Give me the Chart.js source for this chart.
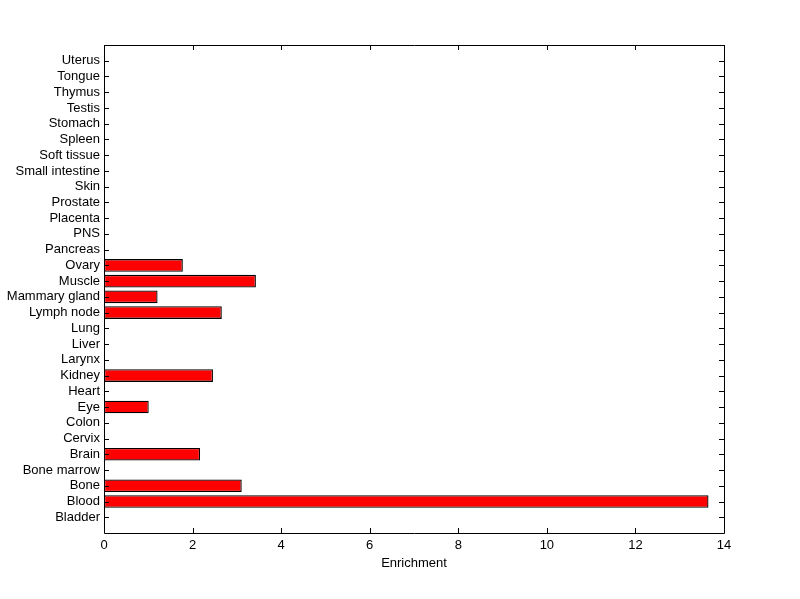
<!DOCTYPE html>
<html>
<head>
<meta charset="utf-8">
<script src="https://cdn.jsdelivr.net/npm/chart.js@4"></script>
<style>
  html, body { margin: 0; padding: 0; background: #fff; }
  #wrap { width: 800px; height: 599px; }
</style>
</head>
<body>
<div id="wrap"><canvas id="chart" width="800" height="599"></canvas></div>
<script>
const tissues = ["Bladder", "Blood", "Bone", "Bone marrow", "Brain", "Cervix", "Colon", "Eye", "Heart",
    "Kidney", "Larynx", "Liver", "Lung", "Lymph node", "Mammary gland", "Muscle", "Ovary", "Pancreas",
    "PNS", "Placenta", "Prostate", "Skin", "Small intestine", "Soft tissue", "Spleen", "Stomach",
    "Testis", "Thymus", "Tongue", "Uterus"];
const enrichment = [0, 13.65, 3.11, 0, 2.17, 0, 0, 1.01, 0,
    2.46, 0, 0, 0, 2.66, 1.21, 3.43, 1.78, 0,
    0, 0, 0, 0, 0, 0, 0, 0,
    0, 0, 0, 0];
const xTicks = [0, 2, 4, 6, 8, 10, 12, 14];

// frame with inward ticks on all four sides
const frameTicks = {
    id: "frameTicks",
    afterDraw(chart) {
        const { ctx, chartArea: a, scales } = chart;
        ctx.save();
        ctx.strokeStyle = "#000";
        ctx.lineWidth = 1;
        ctx.beginPath();
        ctx.rect(Math.round(a.left) + 0.5, Math.round(a.top) + 0.5,
            Math.round(a.right - a.left), Math.round(a.bottom - a.top));
        const len = 5;
        xTicks.forEach(v => {
            const x = Math.round(scales.x.getPixelForValue(v)) + 0.5;
            ctx.moveTo(x, a.bottom); ctx.lineTo(x, a.bottom - len);
            ctx.moveTo(x, a.top); ctx.lineTo(x, a.top + len);
        });
        tissues.forEach((t, i) => {
            const y = Math.round(scales.y.getPixelForValue(i)) + 0.5;
            ctx.moveTo(a.left, y); ctx.lineTo(a.left + len, y);
            ctx.moveTo(a.right, y); ctx.lineTo(a.right - len, y);
        });
        ctx.stroke();
        ctx.restore();
    }
};

const font = { family: "Liberation Sans", size: 13 };

const ctx = document.getElementById("chart").getContext("2d");
new Chart(ctx, {
    type: "bar",
    data: {
        datasets: [{
            data: enrichment.map((v, i) => ({ x: v, y: i })),
            backgroundColor: "#ff0000",
            borderColor: "#000",
            borderWidth: 1.3,
            borderSkipped: false,
            categoryPercentage: 1,
            barPercentage: 0.8
        }]
    },
    options: {
        indexAxis: "y",
        responsive: false,
        animation: false,
        layout: { padding: { left: 0, top: 45, right: 76, bottom: 0 } },
        plugins: { legend: { display: false }, tooltip: { enabled: false } },
        scales: {
            x: {
                type: "linear",
                min: 0,
                max: 14,
                grid: { display: false, drawTicks: false, tickLength: 0 },
                border: { display: false },
                ticks: { stepSize: 2, color: "#000", padding: 5, font },
                title: {
                    display: true,
                    text: "Enrichment",
                    color: "#000",
                    padding: { top: 0, bottom: 28 },
                    font
                },
                afterFit: s => { s.height = 66; }
            },
            y: {
                type: "linear",
                min: -1,
                max: 30,
                offset: false,
                grid: { display: false, drawTicks: false, tickLength: 0 },
                border: { display: false },
                ticks: {
                    stepSize: 1,
                    autoSkip: false,
                    color: "#000",
                    padding: 4,
                    font,
                    callback: v => tissues[v] || ""
                },
                afterFit: s => { s.width = 104; }
            }
        }
    },
    plugins: [frameTicks]
});
</script>
</body>
</html>
